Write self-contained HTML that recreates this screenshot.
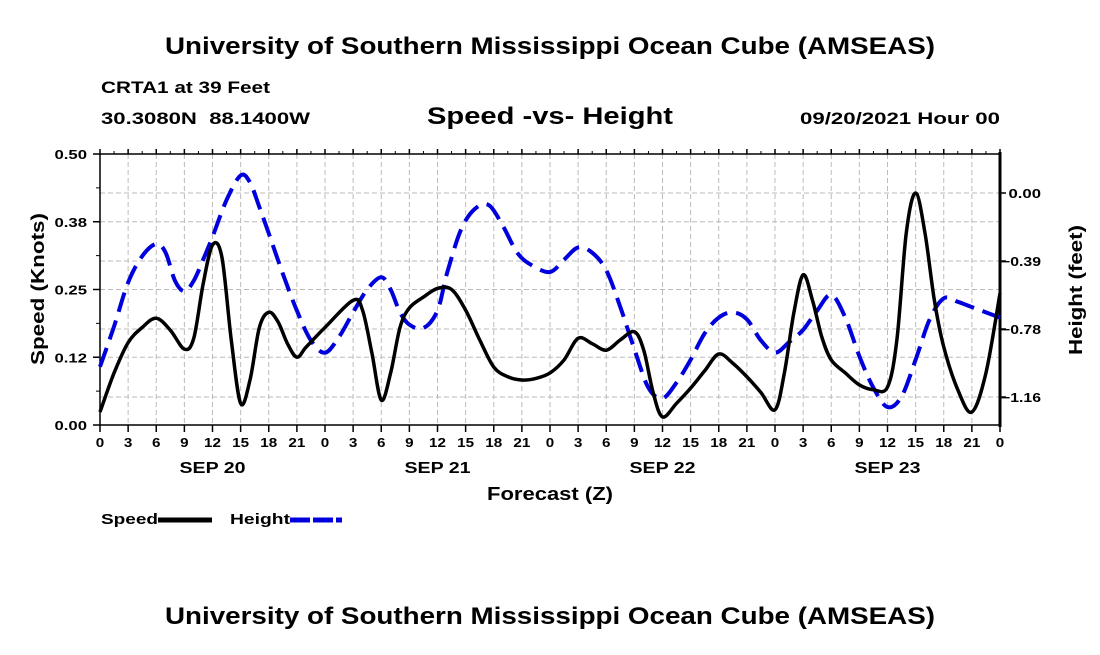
<!DOCTYPE html>
<html><head><meta charset="utf-8"><style>
body{margin:0;background:#fff;}
svg text{font-family:"Liberation Sans",Arial,sans-serif;font-weight:bold;fill:#000;}
</style></head><body>
<svg id="c" width="1100" height="650" viewBox="0 0 1100 650">
<text x="165" y="54" font-size="24" textLength="770" lengthAdjust="spacingAndGlyphs">University of Southern Mississippi Ocean Cube (AMSEAS)</text>
<text x="101" y="93" font-size="17" textLength="169" lengthAdjust="spacingAndGlyphs">CRTA1 at 39 Feet</text>
<text x="101" y="124" font-size="17" xml:space="preserve" textLength="209" lengthAdjust="spacingAndGlyphs">30.3080N  88.1400W</text>
<text x="427" y="124" font-size="24" textLength="246" lengthAdjust="spacingAndGlyphs">Speed -vs- Height</text>
<text x="800" y="124" font-size="17" textLength="200" lengthAdjust="spacingAndGlyphs">09/20/2021 Hour 00</text>
<g id="grid"></g>
<g id="axes"></g>
<g id="series"></g>
<text transform="translate(44,365) rotate(-90)" font-size="18" textLength="152" lengthAdjust="spacingAndGlyphs">Speed (Knots)</text>
<text transform="translate(1082,355) rotate(-90)" font-size="18" textLength="130" lengthAdjust="spacingAndGlyphs">Height (feet)</text>
<text x="487" y="500" font-size="18" textLength="126" lengthAdjust="spacingAndGlyphs">Forecast (Z)</text>
<g>
<text x="101" y="524" font-size="15" textLength="57" lengthAdjust="spacingAndGlyphs">Speed</text>
<line x1="158" y1="520" x2="212" y2="520" stroke="#000" stroke-width="5"/>
<text x="230" y="524" font-size="15" textLength="60" lengthAdjust="spacingAndGlyphs">Height</text>
<line x1="290" y1="520" x2="342" y2="520" stroke="#0000dd" stroke-width="5" stroke-dasharray="20,3"/>
</g>
<text x="165" y="624" font-size="24" textLength="770" lengthAdjust="spacingAndGlyphs">University of Southern Mississippi Ocean Cube (AMSEAS)</text>
</svg>
<script>
const speedHours=[0,1.5,3,4.5,6,7.5,9,10,11,12,13,14,15,16,17,18,19,20,21,22,24,27,28,29,30,31,32,33,34.5,36,37.5,39,40.5,42,43.5,45,46.5,48,49.5,51,52.5,54,55.5,57,58,59,60,61.5,63,64.5,66,67.5,69,70.5,72,73,74,75,76,77,78,79.5,81,82.5,84,85,86,87,88,89,90,91.5,93,94.5,96];
const speedValues=[0.024,0.096,0.152,0.18,0.197,0.175,0.14,0.16,0.26,0.332,0.31,0.157,0.04,0.083,0.18,0.208,0.19,0.15,0.125,0.144,0.18,0.23,0.212,0.133,0.046,0.096,0.18,0.216,0.236,0.252,0.25,0.212,0.157,0.107,0.089,0.083,0.086,0.096,0.12,0.16,0.15,0.138,0.157,0.172,0.138,0.06,0.015,0.04,0.068,0.1,0.131,0.114,0.089,0.06,0.028,0.096,0.206,0.277,0.23,0.162,0.12,0.096,0.074,0.065,0.07,0.157,0.354,0.428,0.354,0.23,0.144,0.065,0.024,0.096,0.243];
const heightHours=[0,1.5,3,4.5,6,7,8,9,10,11,12,13.5,15,16,17,18,19.5,21,22.5,24,25.5,27,28.5,30,31,32,33,34.5,36,37,38.5,40,41.5,43,44.5,46,48,49.5,51,52.5,54,55.5,57,58.5,60,61.5,63,64.5,66,67.5,69,70.5,72,73.5,75,76.5,78,79.5,81,82.5,84,85.5,87,88.5,90,91.5,93,96];
const heightValues=[-0.99,-0.76,-0.51,-0.36,-0.29,-0.34,-0.5,-0.56,-0.5,-0.38,-0.25,-0.04,0.1,0.06,-0.08,-0.23,-0.46,-0.67,-0.84,-0.91,-0.82,-0.68,-0.55,-0.48,-0.55,-0.68,-0.75,-0.77,-0.67,-0.46,-0.21,-0.09,-0.07,-0.19,-0.34,-0.41,-0.45,-0.38,-0.31,-0.34,-0.44,-0.65,-0.89,-1.11,-1.17,-1.08,-0.95,-0.8,-0.71,-0.68,-0.72,-0.84,-0.91,-0.85,-0.78,-0.67,-0.58,-0.71,-0.93,-1.11,-1.22,-1.16,-0.95,-0.72,-0.6,-0.62,-0.65,-0.71];
const xTickLabels=["0","3","6","9","12","15","18","21","0","3","6","9","12","15","18","21","0","3","6","9","12","15","18","21","0","3","6","9","12","15","18","21","0"];
const dayLabels=["SEP 20","SEP 21","SEP 22","SEP 23"];
const leftTicks=[0,0.125,0.25,0.375,0.5];
const leftTickLabels=["0.00","0.12","0.25","0.38","0.50"];
const rightTicks=[0,-0.3875,-0.775,-1.1625];
const rightTickLabels=["0.00","\u22120.39","\u22120.78","\u22121.16"];

const L=100,R=1000,T=154,B=425;
const X=h=>L+h*(R-L)/96;
const YS=v=>B-v*(B-T)/0.5;
const YH=v=>193-v*(68/0.3875);
const NS="http://www.w3.org/2000/svg";
function mk(tag,attrs,parent){const e=document.createElementNS(NS,tag);for(const k in attrs)e.setAttribute(k,attrs[k]);parent.appendChild(e);return e;}
function tlen(s){let w=0;for(const ch of s){w+=ch==='.'?4.3:(ch==='\u2212'?7.5:(ch===' '?4:9.4));}return w;}
const grid=document.getElementById('grid'),axes=document.getElementById('axes'),series=document.getElementById('series');
xTickLabels.forEach((lab,i)=>{const x=X(i*3);
 if(i>0&&i<32){const g=mk('line',{x1:x,y1:T,x2:x,y2:B,stroke:'#bbb','stroke-width':1,'stroke-dasharray':'5,3'},grid);
 }
 const tk=mk('line',{x1:x,y1:B,x2:x,y2:B+7,stroke:'#000','stroke-width':1.5},axes);
 
 const tt=mk('line',{x1:x,y1:T,x2:x,y2:T-5,stroke:'#000','stroke-width':1.5},axes);
 
 const w=tlen(lab)*0.9;
 const t=mk('text',{x:x-w/2,y:B+22,'font-size':13,textLength:w,lengthAdjust:'spacingAndGlyphs'},axes);t.textContent=lab;
 
});
for(let h=1.5;h<96;h+=3){const x=X(h);const m=mk('line',{x1:x,y1:T,x2:x,y2:T-3,stroke:'#000','stroke-width':1},axes);
 }
dayLabels.forEach((d,i)=>{const w=66;const t=mk('text',{x:X(12+24*i)-w/2,y:473,'font-size':16,textLength:w,lengthAdjust:'spacingAndGlyphs'},axes);t.textContent=d;
 });
leftTicks.forEach((v,i)=>{const y=YS(v);
 if(i>0&&i<4){const g=mk('line',{x1:L,y1:y,x2:R,y2:y,stroke:'#bbb','stroke-width':1,'stroke-dasharray':'5,3'},grid);
 }
 const tk=mk('line',{x1:L-7,y1:y,x2:L,y2:y,stroke:'#000','stroke-width':1.5},axes);
 
 const w=tlen(leftTickLabels[i]);
 const t=mk('text',{x:L-13-w,y:y+5,'font-size':13,textLength:w,lengthAdjust:'spacingAndGlyphs'},axes);t.textContent=leftTickLabels[i];
 });
for(let v=0.0625;v<0.5;v+=0.125){const m=mk('line',{x1:L-4,y1:YS(v),x2:L,y2:YS(v),stroke:'#000','stroke-width':1},axes);
 }
rightTicks.forEach((v,i)=>{const y=YH(v);
 const g=mk('line',{x1:L,y1:y,x2:R,y2:y,stroke:'#bbb','stroke-width':1,'stroke-dasharray':'5,3'},grid);
 
 const tk=mk('line',{x1:R,y1:y,x2:R+6,y2:y,stroke:'#000','stroke-width':1.5},axes);
 
 const w=tlen(rightTickLabels[i]);
 const t=mk('text',{x:1041-w,y:y+5,'font-size':13,textLength:w,lengthAdjust:'spacingAndGlyphs'},axes);t.textContent=rightTickLabels[i];
 });
const fr=mk('rect',{x:L,y:T,width:R-L,height:B-T,fill:'none',stroke:'#000','stroke-width':1.5},axes);

const ra=mk('line',{x1:R,y1:T-2,x2:R,y2:B+2,stroke:'#000','stroke-width':3},axes);

function smooth(pts){let d='M'+pts[0][0]+','+pts[0][1];
 for(let i=0;i<pts.length-1;i++){const p0=pts[Math.max(0,i-1)],p1=pts[i],p2=pts[i+1],p3=pts[Math.min(pts.length-1,i+2)];
 const c1=[p1[0]+(p2[0]-p0[0])/6,p1[1]+(p2[1]-p0[1])/6],c2=[p2[0]-(p3[0]-p1[0])/6,p2[1]-(p3[1]-p1[1])/6];
 d+=' C'+c1.join(',')+' '+c2.join(',')+' '+p2.join(',');}return d;}
const hp=mk('path',{d:smooth(heightHours.map((h,i)=>[X(h),YH(heightValues[i])])),fill:'none',stroke:'#0000dd','stroke-width':4,'stroke-dasharray':'20,9'},series);

const sp=mk('path',{d:smooth(speedHours.map((h,i)=>[X(h),YS(speedValues[i])])),fill:'none',stroke:'#000','stroke-width':3.5,'stroke-linejoin':'round'},series);

</script>
</body></html>
